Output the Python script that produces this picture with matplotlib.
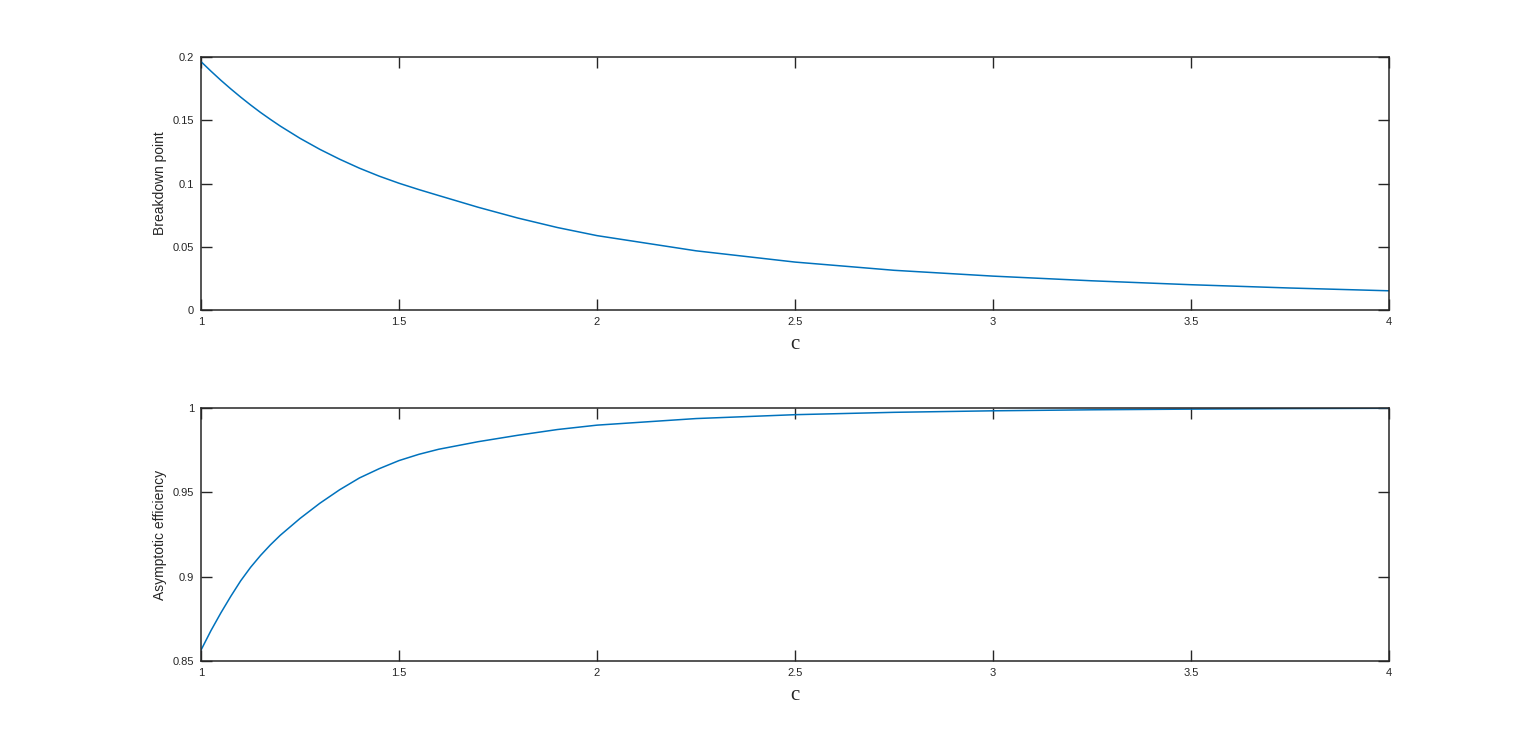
import matplotlib
matplotlib.use("Agg")
import matplotlib.pyplot as plt

# values
c_vals = [1.0, 1.025, 1.05, 1.075, 1.1, 1.125, 1.15, 1.175, 1.2, 1.25, 1.3,
          1.35, 1.4, 1.45, 1.5, 1.55, 1.6, 1.7, 1.8, 1.9, 2.0, 2.25, 2.5,
          2.75, 3.0, 3.25, 3.5, 3.75, 4.0]
breakdown = [0.1963, 0.1888, 0.1816, 0.1748, 0.1683, 0.1621, 0.1562, 0.1507,
             0.1454, 0.1357, 0.1270, 0.1192, 0.1121, 0.1058, 0.1002, 0.0952,
             0.0905, 0.0812, 0.0727, 0.0652, 0.0588, 0.0468, 0.0379, 0.0314,
             0.0268, 0.0231, 0.0200, 0.0174, 0.0152]
efficiency = [0.8565, 0.8680, 0.8785, 0.8883, 0.8975, 0.9055, 0.9125, 0.9188,
              0.9245, 0.9345, 0.9435, 0.9515, 0.9585, 0.9640, 0.9688, 0.9725,
              0.9755, 0.9800, 0.9838, 0.9872, 0.9898, 0.9937, 0.9960, 0.9974,
              0.9983, 0.9989, 0.9993, 0.9996, 0.9998]

x_ticks = [1, 1.5, 2, 2.5, 3, 3.5, 4]
x_ticklabels = ["1", "1.5", "2", "2.5", "3", "3.5", "4"]
top_yticks = [0, 0.05, 0.1, 0.15, 0.2]
top_yticklabels = ["0", "0.05", "0.1", "0.15", "0.2"]
bot_yticks = [0.85, 0.9, 0.95, 1.0]
bot_yticklabels = ["0.85", "0.9", "0.95", "1"]

LINE = "#0072BD"
AXC = "#262626"

fig = plt.figure(figsize=(15.36, 7.44), dpi=100)
ax1 = fig.add_axes([0.1309, 0.5833, 0.7734, 0.3401])
ax2 = fig.add_axes([0.1309, 0.1116, 0.7734, 0.3401])


def style(ax, yticks, yticklabels, ylim, ylabel):
    ax.set_xlim(1, 4)
    ax.set_ylim(*ylim)
    ax.set_xticks(x_ticks)
    ax.set_xticklabels(x_ticklabels)
    ax.set_yticks(yticks)
    ax.set_yticklabels(yticklabels)
    ax.tick_params(direction="in", length=8, width=1, colors=AXC,
                   labelsize=8, top=True, right=True, pad=5,
                   labelfontfamily="Liberation Sans")
    for s in ax.spines.values():
        s.set_linewidth(1.1)
        s.set_color(AXC)
    ax.set_ylabel(ylabel, fontsize=10, family="Liberation Sans", color=AXC,
                  labelpad=4)
    ax.set_xlabel("c", fontsize=15, family="Liberation Serif", color=AXC,
                  labelpad=6)


ax1.plot(c_vals, breakdown, color=LINE, linewidth=1.1)
style(ax1, top_yticks, top_yticklabels, (0, 0.2), "Breakdown point")

ax2.plot(c_vals, efficiency, color=LINE, linewidth=1.1)
style(ax2, bot_yticks, bot_yticklabels, (0.85, 1.0), "Asymptotic efficiency")

fig.savefig("out.png", dpi=100)
